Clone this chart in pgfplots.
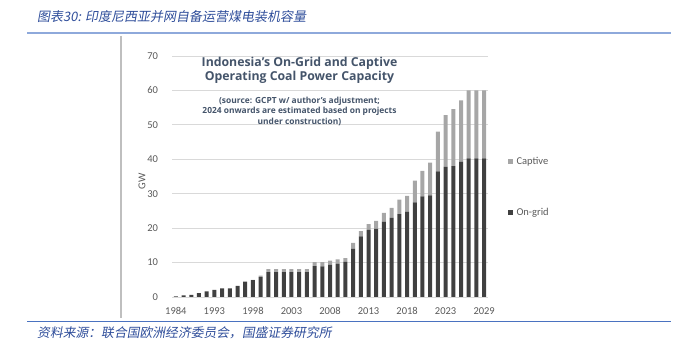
\documentclass[border=0pt]{standalone}
\usepackage{fontspec}
\usepackage{pgfplots}
\pgfplotsset{compat=1.18}
\setmainfont{Carlito}
\newfontfamily\titlefont{Open Sans}
\newfontfamily\cjk{Noto Sans CJK SC}[FakeSlant=0.18]
\definecolor{ongrid}{HTML}{404040}
\definecolor{captive}{HTML}{A6A6A6}
\definecolor{ticktext}{HTML}{595959}
\definecolor{titleblue}{HTML}{44546A}
\definecolor{hdrblue}{HTML}{2E4D9A}
\definecolor{ruleA}{HTML}{8EA9DB}
\definecolor{ruleB}{HTML}{4A72C0}
\begin{document}
\begin{tikzpicture}[x=1pt,y=1pt]
\useasboundingbox (0,0) rectangle (683,345);
\draw[ruleA, line width=1.6pt] (27,312) -- (671,312);
\draw[ruleB, line width=1pt] (27,23) -- (671,23);
\draw[black!25, line width=1.2pt] (121,309) -- (121,27);
\node[anchor=west, text=hdrblue, font=\cjk\fontsize{13}{15}\selectfont, inner sep=0pt] at (37,328) {图表30: 印度尼西亚并网自备运营煤电装机容量};
\node[anchor=west, text=hdrblue, font=\cjk\fontsize{12.8}{15}\selectfont, inner sep=0pt] at (37,12) {资料来源：联合国欧洲经济委员会，国盛证券研究所};

\begin{axis}[
  at={(172pt,48pt)}, anchor=south west, scale only axis,
  width=316pt, height=241pt,
  ybar stacked, bar width=4pt,
  xmin=-0.5, xmax=40.5, ymin=0, ymax=70,
  ytick={0,10,...,70},
  xtick={0,5,...,40},
  xticklabels={1984,1993,1998,2003,2008,2013,2018,2023,2029},
  ymajorgrids, grid style={draw=black!15, line width=0.9pt},
  axis line style={draw=none}, major tick length=0pt,
  /pgf/number format/assume math mode=true,
  tick label style={font=\fontsize{10.5}{12}\selectfont, text=ticktext},
  yticklabel style={xshift=-10.5pt},
  xticklabel style={yshift=-7pt},
  ylabel={GW},
  every axis y label/.style={at={(axis description cs:-0.095,0.48)}, rotate=90, anchor=center, font=\fontsize{10.5}{12}\selectfont, text=ticktext},
  legend style={at={(axis description cs:1.0633,0.4564)}, anchor=west, draw=none, fill=none, inner sep=0pt, row sep=40pt,
    font=\fontsize{10.5}{12}\selectfont, text=ticktext,
    nodes={inner sep=1pt, text height=7pt, text depth=2pt},
    /tikz/every odd column/.append style={column sep=2.5pt}},
  legend cell align=left,
  reverse legend,
]
\addplot[fill=ongrid, draw=none, legend image code/.code={\fill[ongrid] (0pt,-2.4pt) rectangle (4.8pt,2.4pt);}] coordinates {
(0,0.2) (1,0.5) (2,0.6) (3,1.1) (4,1.6) (5,2.1) (6,2.5) (7,2.5) (8,3.2) (9,4.5)
(10,4.9) (11,5.8) (12,7.2) (13,7.2) (14,7.2) (15,7.2) (16,7.2) (17,7.2) (18,9.0) (19,8.9)
(20,9.3) (21,9.7) (22,10.2) (23,14.0) (24,17.6) (25,19.5) (26,19.8) (27,21.9) (28,23.0) (29,24.1)
(30,24.8) (31,27.5) (32,29.2) (33,29.5) (34,36.5) (35,37.8) (36,38.0) (37,39.3) (38,40.3) (39,40.3)
(40,40.3)};
\addplot[fill=captive, draw=none, legend image code/.code={\fill[captive] (0pt,-2.4pt) rectangle (4.8pt,2.4pt);}] coordinates {
(0,0) (1,0) (2,0) (3,0) (4,0) (5,0) (6,0) (7,0) (8,0) (9,0)
(10,0.1) (11,0.4) (12,0.9) (13,0.9) (14,0.9) (15,0.9) (16,0.9) (17,0.9) (18,1.1) (19,1.2)
(20,1.3) (21,1.2) (22,1.1) (23,1.7) (24,1.5) (25,1.7) (26,2.3) (27,2.5) (28,2.9) (29,4.2)
(30,4.6) (31,6.3) (32,7.4) (33,9.5) (34,11.5) (35,15.0) (36,16.6) (37,17.8) (38,19.7) (39,19.7)
(40,19.7)};
\legend{On-grid,Captive}
\end{axis}

\node[anchor=base, text=titleblue, font=\titlefont\bfseries\fontsize{12.3}{14}\selectfont, inner sep=0pt] at (299.5,278) {Indonesia’s On-Grid and Captive};
\node[anchor=base, text=titleblue, font=\titlefont\bfseries\fontsize{12.3}{14}\selectfont, inner sep=0pt] at (299.5,264.5) {Operating Coal Power Capacity};
\node[anchor=base, text=titleblue, font=\titlefont\bfseries\fontsize{8.4}{10}\selectfont, inner sep=0pt] at (299.5,241.7) {(source: GCPT w/ author’s adjustment;};
\node[anchor=base, text=titleblue, font=\titlefont\bfseries\fontsize{8.4}{10}\selectfont, inner sep=0pt] at (299.5,231.2) {2024 onwards are estimated based on projects};
\node[anchor=base, text=titleblue, font=\titlefont\bfseries\fontsize{8.4}{10}\selectfont, inner sep=0pt] at (299.5,220.7) {under construction)};
\end{tikzpicture}
\end{document}
